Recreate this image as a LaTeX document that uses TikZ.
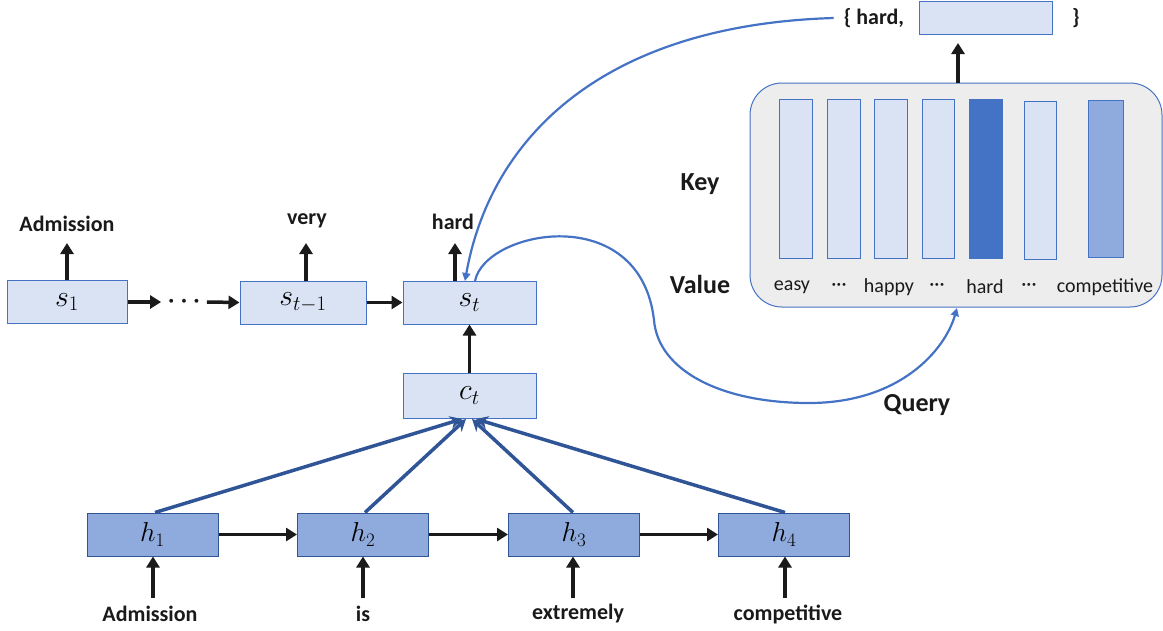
\documentclass[tikz,border=0pt]{standalone}
\usepackage{graphicx}
\usepackage{fontspec}
\setmainfont{Carlito}
\usetikzlibrary{arrows.meta,positioning}
\definecolor{lightbox}{HTML}{DAE3F3}
\definecolor{boxline}{HTML}{4472C4}
\definecolor{hfill}{HTML}{8FAADC}
\definecolor{hline}{HTML}{2F5597}
\definecolor{darkbar}{HTML}{4472C4}
\definecolor{kvfill}{HTML}{EDEDED}
\definecolor{txt}{HTML}{1A1A1A}
\newcommand\mthS[1]{\scalebox{1.2}{$#1$}}
\newcommand\mthH[1]{\scalebox{1.1}{$#1$}}
\tikzset{
  sbox/.style={draw=boxline, line width=1pt, fill=lightbox, minimum height=43pt, inner sep=0pt, font=\fontsize{25}{27}\selectfont},
  hbox/.style={draw=hline, line width=1pt, fill=hfill, minimum width=131pt, minimum height=43pt, inner sep=0pt, font=\fontsize{25}{27}\selectfont},
  word/.style={font=\fontsize{22}{24}\selectfont\bfseries, text=txt, inner sep=0pt},
  bigword/.style={font=\fontsize{26}{28}\selectfont\bfseries, text=txt, inner sep=0pt},
  barlab/.style={font=\fontsize{20}{22}\selectfont, text=txt, inner sep=0pt},
  bar/.style={draw=boxline, line width=1pt, fill=lightbox, minimum height=159pt, inner sep=0pt},
  blk/.style={draw=txt, line width=3.5pt, -{Triangle[width=13pt,length=11pt]}},
  conv/.style={draw=hline, line width=3.5pt, -{Stealth[width=13pt,length=12pt]}},
  curve/.style={draw=boxline, line width=2.2pt, -{Triangle[width=8pt,length=8pt]}},
}
\begin{document}
\begin{tikzpicture}[x=1pt,y=-1pt]
\useasboundingbox (0,0) rectangle (1163,630);

% decoder states
\node[sbox, minimum width=120pt] (s1) at (67,302) {\mthS{s_1}};
\node[sbox, minimum width=126pt] (st1) at (303,302.5) {\mthS{s_{t-1}}};
\node[sbox, minimum width=133pt] (st) at (469.5,302.5) {\mthS{s_t}};
\node[sbox, minimum width=133pt, minimum height=45pt] (ct) at (469.5,395.5) {\mthS{c_t}};
\node[inner ysep=0pt, inner xsep=6pt, text=txt, font=\fontsize{25}{27}\selectfont\boldmath] (dots) at (184,302) {$\cdots$};

% outputs
\node[word] (o1) at (67,224) {Admission};
\node[word] (o2) at (307,221) {very};
\node[word] (o3) at (453,222) {hard};
\coordinate (o1a) at (67,243);
\coordinate (o2a) at (306,243);
\coordinate (o3a) at (455,243);
\draw[blk] (s1.north -| o1a) -- (o1a);
\draw[blk] (st1.north -| o2a) -- (o2a);
\draw[blk] (st.north -| o3a) -- (o3a);

\draw[blk] (s1.east) -- (dots.west);
\draw[blk] (dots.east) -- (st1.west);
\draw[blk] (st1.east) -- (st.west);
\draw[blk] (ct.north) -- (st.south);

% encoder
\node[hbox] (h1) at (152.5,534.5) {\mthH{h_1}};
\node[hbox] (h2) at (363,534.5) {\mthH{h_2}};
\node[hbox] (h3) at (574,534.5) {\mthH{h_3}};
\node[hbox] (h4) at (784,534.5) {\mthH{h_4}};
\draw[blk] (h1.east) -- (h2.west);
\draw[blk] (h2.east) -- (h3.west);
\draw[blk] (h3.east) -- (h4.west);

\node[word] (w1) at (150,614) {Admission};
\node[word] (w2) at (363,614) {is};
\node[word] (w3) at (578,614) {extremely};
\node[word] (w4) at (788,614) {competitive};
\coordinate (w1a) at (153,598);
\coordinate (w2a) at (363,598);
\coordinate (w3a) at (573,598);
\coordinate (w4a) at (785,598);
\draw[blk] (w1a) -- (h1.south -| w1a);
\draw[blk] (w2a) -- (h2.south -| w2a);
\draw[blk] (w3a) -- (h3.south -| w3a);
\draw[blk] (w4a) -- (h4.south -| w4a);

% attention arrows
\coordinate (c1) at (462,419);
\coordinate (c2) at (466,419);
\coordinate (c3) at (472,419);
\coordinate (c4) at (476,419);
\draw[conv] (h1.north -| 155,0) -- (c1);
\draw[conv] (h2.north -| 365,0) -- (c2);
\draw[conv] (h3.north -| 573,0) -- (c3);
\draw[conv] (h4.north -| 785,0) -- (c4);

% key-value memory
\node[draw=boxline, line width=1pt, fill=kvfill, rounded corners=32pt, minimum width=412pt, minimum height=224pt, inner sep=0pt] (kv) at (956,195) {};
\node[bar, minimum width=33pt] (b1) at (795.5,178.5) {};
\node[bar, minimum width=33pt] (b2) at (843.5,178.5) {};
\node[bar, minimum width=33pt] (b3) at (890.5,178.5) {};
\node[bar, minimum width=32pt] (b4) at (938,178.5) {};
\node[bar, minimum width=33pt, fill=darkbar] (b5) at (985.5,178.5) {};
\node[bar, minimum width=32pt, minimum height=158pt] (b6) at (1040,180) {};
\node[bar, minimum width=35pt, minimum height=157pt, fill=hfill] (b7) at (1105.5,179) {};

\node[barlab] (l1) at (792,287) {easy};
\node[barlab] (l2) at (839,287) {···};
\node[barlab] (l3) at (889,287) {happy};
\node[barlab] (l4) at (937,287) {···};
\node[barlab] (l5) at (985,287) {hard};
\node[barlab] (l6) at (1029,287) {···};
\node[barlab] (l7) at (1105,287) {competitive};

\node[bigword] (key) at (700,184) {Key};
\node[bigword] (val) at (700,284) {Value};
\node[bigword] (qry) at (917,405) {Query};

% retrieved pair
\node[word] (hardset) at (874,18) {\{ hard,};
\node[draw=boxline, line width=1pt, fill=lightbox, minimum width=133pt, minimum height=33pt, inner sep=0pt] (ret) at (985.5,17.5) {};
\node[word] (close) at (1076,18) {\}};
\coordinate (kvtop) at (958,43);
\draw[blk] (kv.north -| kvtop) -- (kvtop);

% blue curves
\coordinate (stin) at (465,281);
\coordinate (stout) at (475,281);
\coordinate (qin) at (957,308);
\draw[curve] ([xshift=-10pt]hardset.west) .. controls (600,25) and (490,140) .. (stin);
\draw[curve] (stout) .. controls (485,230) and (640,200) .. (654,320)
   .. controls (658,370) and (720,403) .. (809,403)
   .. controls (900,403) and (945,350) .. (qin);
\end{tikzpicture}
\end{document}
